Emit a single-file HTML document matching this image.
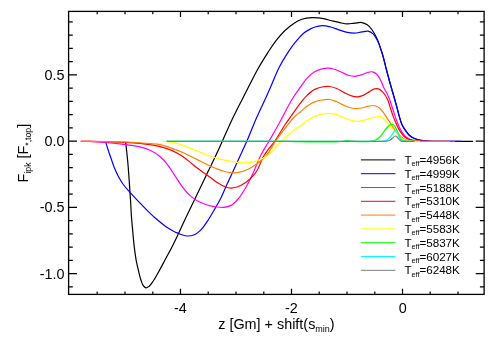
<!DOCTYPE html>
<html><head><meta charset="utf-8"><style>
html,body{margin:0;padding:0;background:#fff;}
svg{display:block;will-change:transform;font-family:"Liberation Sans",sans-serif;}
</style></head><body>
<svg width="491" height="343" viewBox="0 0 491 343">
<rect width="491" height="343" fill="#fff"/>
<g fill="none" stroke-width="1.2" stroke-linejoin="round" stroke-linecap="butt">
<path d="M125.7,142.0 C126.3,148.0 127.0,154.0 127.6,160.0 C128.1,164.9 128.4,169.8 128.8,174.7 C129.2,180.6 129.6,186.5 130.0,192.4 C130.2,195.5 130.4,198.5 130.6,201.6 C130.9,205.9 131.0,210.2 131.3,214.5 C131.7,220.3 132.3,226.2 132.8,232.0 C133.3,237.3 133.7,242.7 134.4,248.0 C134.9,251.9 135.4,255.9 136.1,259.8 C136.8,263.6 137.7,267.4 138.6,271.2 C139.3,274.2 139.9,277.3 141.0,280.2 C141.7,282.1 142.2,284.4 143.5,285.9 C144.2,286.7 145.0,287.8 145.9,287.9 C146.9,288.1 148.2,286.9 149.2,286.2 C150.9,284.9 152.0,282.8 153.3,281.0 C155.5,277.9 157.2,274.5 159.0,271.2 C161.2,267.2 163.3,263.1 165.5,259.0 C167.1,256.0 168.8,253.0 170.4,250.0 C175.9,239.6 180.6,228.7 185.7,218.0 C190.2,208.7 194.7,199.3 199.2,190.0 C201.6,184.9 204.1,179.9 206.5,174.8 C209.6,168.4 212.8,162.0 215.8,155.5 C218.0,150.8 220.1,146.0 222.3,141.3 C225.3,134.6 228.2,127.8 231.3,121.2 C234.7,114.1 238.3,107.1 241.9,100.0 C244.6,94.7 247.3,89.3 250.0,84.0 C252.9,78.5 255.6,72.9 258.7,67.5 C261.5,62.5 264.6,57.6 267.7,52.8 C270.8,48.1 273.8,43.3 277.4,38.9 C280.0,35.8 282.6,32.7 285.6,30.0 C288.2,27.6 290.9,25.3 293.8,23.4 C296.3,21.8 299.1,20.2 301.9,19.3 C305.0,18.3 308.4,17.8 311.7,17.7 C313.8,17.6 315.9,17.7 318.0,17.9 C319.8,18.1 321.7,18.4 323.5,18.7 C326.8,19.3 330.0,20.5 333.3,21.2 C335.5,21.7 337.8,22.2 340.0,22.6 C342.4,23.1 344.9,23.8 347.3,23.9 C349.8,24.0 352.2,23.3 354.7,23.1 C357.1,22.9 359.7,22.1 362.0,22.6 C363.7,22.9 365.4,23.7 366.9,24.6 C368.8,25.8 370.4,27.7 371.8,29.5 C373.8,32.1 375.3,35.1 376.7,38.1 C378.8,42.4 380.1,47.0 381.6,51.5 C383.6,57.6 384.9,63.8 386.5,70.0 C387.7,74.3 388.8,78.7 390.0,83.0 C391.6,88.7 393.3,94.3 394.9,100.0 C395.6,102.7 396.4,105.3 397.1,108.0 C397.8,110.7 398.4,113.4 399.2,116.1 C400.0,118.8 400.6,121.6 401.8,124.2 C402.8,126.4 404.2,128.6 405.6,130.6 C406.7,132.2 407.9,133.9 409.3,135.2 C410.7,136.4 412.2,137.5 413.9,138.3 C415.3,139.0 416.9,139.4 418.5,139.8 C420.0,140.2 421.6,140.5 423.2,140.7 C424.8,140.9 426.4,141.1 428.0,141.2 C429.3,141.3 430.7,141.3 432.0,141.3 C433.3,141.3 434.7,141.3 436.0,141.3 C448.3,141.3 460.7,141.3 473.0,141.3" stroke="#000000"/>
<path d="M105.6,141.6 C106.5,144.7 107.4,147.8 108.4,150.8 C109.4,153.9 110.5,156.9 111.6,160.0 C112.6,162.9 113.5,165.8 114.7,168.6 C115.8,171.3 117.0,173.9 118.4,176.5 C119.9,179.3 121.5,182.0 123.3,184.5 C125.3,187.3 127.7,189.8 130.0,192.4 C132.8,195.5 135.7,198.6 138.6,201.6 C143.6,206.8 148.5,212.1 153.9,216.9 C157.8,220.3 161.8,223.8 166.1,226.7 C169.6,229.0 173.2,231.3 177.1,232.9 C180.2,234.2 183.6,235.9 186.9,236.0 C189.3,236.1 192.1,235.7 194.3,234.8 C196.6,233.9 198.6,232.1 200.4,230.4 C203.4,227.7 205.5,224.0 207.8,220.6 C210.5,216.7 212.7,212.5 215.1,208.4 C216.8,205.5 218.5,202.7 220.0,199.8 C222.3,195.4 224.1,190.8 226.1,186.3 C230.8,176.0 235.6,165.8 240.3,155.5 C242.5,150.8 244.7,146.1 246.8,141.3 C250.0,134.1 252.7,126.8 255.8,119.6 C258.7,113.0 261.8,106.6 264.8,100.0 C267.1,95.0 269.3,89.9 271.5,84.9 C274.1,79.1 276.2,73.1 279.1,67.5 C281.5,62.7 284.3,58.1 287.2,53.6 C289.8,49.7 292.4,45.8 295.4,42.2 C298.0,39.1 300.4,35.7 303.6,33.2 C305.6,31.6 307.8,30.3 310.1,29.1 C311.7,28.3 313.3,27.5 315.0,27.0 C317.3,26.2 319.9,25.7 322.3,25.6 C325.1,25.5 328.0,26.3 330.8,27.0 C334.1,27.8 337.3,29.4 340.6,30.4 C342.8,31.1 345.0,31.9 347.3,32.4 C349.7,32.9 352.2,33.3 354.7,33.2 C357.1,33.1 359.6,32.2 362.0,31.9 C364.1,31.6 366.3,30.8 368.2,31.2 C369.9,31.6 371.7,32.7 373.1,33.9 C374.7,35.3 375.6,37.4 376.7,39.3 C378.9,43.1 380.2,47.4 381.6,51.5 C383.7,57.5 384.9,63.8 386.5,70.0 C387.7,74.3 388.8,78.7 390.0,83.0 C391.6,88.7 393.3,94.3 394.9,100.0 C395.6,102.7 396.4,105.3 397.1,108.0 C397.8,110.7 398.4,113.4 399.2,116.1 C400.0,118.8 400.6,121.6 401.8,124.2 C402.8,126.4 404.2,128.6 405.6,130.6 C406.7,132.2 407.9,133.9 409.3,135.2 C410.7,136.4 412.2,137.5 413.9,138.3 C415.3,139.0 416.9,139.4 418.5,139.8 C420.0,140.2 421.6,140.5 423.2,140.7 C424.8,140.9 426.4,141.1 428.0,141.2 C429.3,141.3 430.7,141.3 432.0,141.3 C433.3,141.3 434.7,141.3 436.0,141.3 C444.3,141.3 452.7,141.3 461.0,141.3" stroke="#0000ff"/>
<path d="M80.8,141.3 C83.9,141.3 86.9,141.3 90.0,141.4 C95.2,141.6 100.5,142.0 105.7,142.4 C112.5,143.0 119.2,143.8 125.9,144.7 C130.3,145.3 134.7,145.7 139.0,146.7 C142.7,147.6 146.5,148.6 150.0,150.2 C153.5,151.8 157.0,154.0 160.0,156.5 C162.7,158.8 165.1,161.5 167.3,164.3 C170.1,167.7 172.2,171.6 174.7,175.3 C177.1,179.0 179.3,182.8 182.0,186.3 C184.3,189.3 186.6,192.3 189.4,194.9 C191.6,197.0 194.1,198.9 196.7,200.5 C199.7,202.3 203.1,203.6 206.5,204.7 C209.7,205.7 213.0,206.5 216.3,206.9 C218.7,207.2 221.3,207.6 223.7,207.4 C226.2,207.2 228.8,206.5 231.0,205.4 C233.9,203.9 236.2,201.1 238.4,198.6 C241.3,195.3 243.5,191.4 245.7,187.6 C248.5,182.9 250.8,177.9 253.1,172.9 C255.8,167.2 257.8,161.1 260.7,155.5 C263.2,150.6 266.2,146.0 268.9,141.3 C272.7,134.6 276.6,127.9 280.3,121.2 C284.2,114.2 287.5,106.8 291.7,100.0 C294.3,95.8 297.1,91.7 300.0,87.7 C302.4,84.4 304.5,80.8 307.3,77.9 C309.5,75.6 312.0,73.4 314.7,71.8 C316.9,70.5 319.5,69.5 322.0,68.9 C324.0,68.4 326.1,68.0 328.2,68.1 C330.2,68.2 332.3,68.7 334.3,69.3 C336.8,70.0 339.2,71.3 341.6,72.3 C344.1,73.3 346.4,74.8 349.0,75.5 C351.0,76.0 353.1,76.4 355.1,76.3 C357.2,76.2 359.2,75.5 361.2,74.9 C363.3,74.3 365.3,73.0 367.4,72.5 C369.0,72.1 370.7,71.6 372.2,71.8 C373.5,72.0 374.9,72.7 376.0,73.5 C378.0,74.9 379.1,77.5 380.4,79.7 C381.9,82.4 382.6,85.5 384.1,88.3 C384.9,89.8 385.8,91.1 386.6,92.6 C387.8,95.0 388.8,97.5 389.8,100.0 C390.8,102.6 391.5,105.3 392.4,108.0 C393.3,110.7 394.2,113.4 395.1,116.1 C396.0,118.6 396.8,121.1 397.8,123.5 C398.8,126.0 399.8,128.6 401.2,130.9 C402.3,132.8 403.6,134.7 405.2,136.2 C406.6,137.4 408.2,138.5 409.9,139.2 C411.6,140.0 413.5,140.4 415.3,140.7 C417.2,141.1 419.1,141.2 421.0,141.3 C424.0,141.5 427.0,141.3 430.0,141.3 C438.3,141.3 446.7,141.3 455.0,141.3" stroke="#ff00ff"/>
<path d="M80.8,141.3 C83.9,141.3 86.9,141.3 90.0,141.3 C96.3,141.3 102.7,141.5 109.0,141.7 C114.6,141.9 120.3,142.0 125.9,142.4 C134.0,142.9 142.0,143.4 150.0,144.7 C152.7,145.1 155.4,145.6 158.0,146.2 C162.0,147.1 166.0,148.1 169.8,149.6 C173.2,150.9 176.5,152.6 179.6,154.5 C183.0,156.6 186.2,159.1 189.4,161.6 C192.7,164.2 195.8,167.0 199.2,169.6 C202.4,172.0 205.7,174.3 209.0,176.6 C212.3,178.9 215.3,181.6 218.8,183.6 C220.8,184.8 222.9,186.0 225.1,186.8 C226.8,187.4 228.7,188.0 230.5,188.1 C232.7,188.2 234.9,187.6 237.0,187.0 C240.1,186.1 243.0,184.3 245.7,182.5 C249.4,179.9 252.8,176.5 255.5,172.9 C259.4,167.9 260.6,161.0 264.0,155.5 C267.1,150.5 271.2,146.2 274.6,141.3 C278.4,135.9 281.5,130.0 285.2,124.5 C288.4,119.8 291.7,115.2 295.0,110.6 C296.7,108.3 298.2,105.9 300.0,103.6 C302.3,100.7 304.6,97.6 307.3,95.1 C309.6,93.0 312.0,90.8 314.7,89.4 C317.0,88.3 319.5,87.5 322.0,87.0 C324.4,86.5 327.0,86.3 329.4,86.5 C331.9,86.7 334.4,87.6 336.7,88.5 C339.3,89.5 341.6,91.4 344.1,92.6 C346.5,93.8 348.9,95.1 351.4,95.8 C353.4,96.4 355.6,96.9 357.6,96.8 C359.7,96.7 361.8,95.9 363.7,95.1 C365.9,94.2 367.7,92.5 369.8,91.4 C371.4,90.5 372.9,89.2 374.7,88.9 C375.9,88.7 377.3,88.6 378.4,88.9 C380.3,89.4 381.9,91.2 383.3,92.6 C385.3,94.6 386.6,97.4 387.8,100.0 C389.0,102.5 389.5,105.3 390.4,108.0 C391.3,110.7 392.1,113.4 393.1,116.1 C394.1,118.8 395.3,121.5 396.5,124.2 C397.5,126.5 398.5,128.8 399.8,130.9 C401.0,132.8 402.3,134.7 403.9,136.2 C405.3,137.4 406.9,138.4 408.6,139.2 C410.3,139.9 412.1,140.4 413.9,140.7 C416.2,141.2 418.6,141.2 421.0,141.3 C422.7,141.4 424.3,141.3 426.0,141.3" stroke="#ff0000"/>
<path d="M80.8,141.3 C83.9,141.3 86.9,141.3 90.0,141.3 C96.3,141.3 102.7,141.5 109.0,141.6 C114.6,141.7 120.3,141.8 125.9,142.0 C133.9,142.3 142.0,143.0 150.0,143.7 C153.3,144.0 156.7,144.1 160.0,144.7 C164.2,145.5 168.2,147.0 172.2,148.4 C176.4,149.9 180.5,151.5 184.5,153.3 C188.6,155.2 192.6,157.4 196.7,159.4 C200.8,161.4 204.8,163.6 209.0,165.5 C213.0,167.3 217.0,169.1 221.2,170.4 C224.4,171.4 227.7,172.7 231.0,172.9 C233.4,173.1 236.0,172.8 238.4,172.4 C241.8,171.8 245.1,170.6 248.2,169.2 C251.7,167.6 254.9,165.4 258.0,163.1 C261.0,160.8 263.9,158.3 266.4,155.5 C270.1,151.3 272.2,145.9 275.4,141.3 C279.0,136.1 282.8,131.0 286.8,126.1 C289.5,122.8 291.9,119.2 295.0,116.3 C296.6,114.8 298.3,113.6 300.0,112.2 C302.4,110.2 304.7,107.9 307.3,106.1 C309.6,104.5 312.1,102.9 314.7,101.9 C317.0,101.0 319.5,100.4 322.0,100.0 C324.4,99.6 327.0,99.2 329.4,99.5 C331.9,99.8 334.3,100.8 336.7,101.7 C339.3,102.7 341.6,104.3 344.1,105.4 C346.5,106.4 348.9,107.5 351.4,108.0 C353.4,108.4 355.5,108.6 357.6,108.5 C359.6,108.4 361.7,107.9 363.7,107.5 C365.3,107.1 366.9,106.5 368.5,106.2 C369.9,105.9 371.3,105.5 372.7,105.5 C374.0,105.5 375.3,105.8 376.5,106.3 C377.6,106.8 378.6,107.5 379.5,108.3 C380.8,109.4 382.0,110.8 383.1,112.1 C384.6,114.0 385.8,116.1 387.1,118.1 C388.4,120.1 389.8,122.2 391.1,124.2 C392.4,126.2 393.6,128.3 395.1,130.2 C396.4,131.8 397.7,133.4 399.2,134.9 C400.7,136.3 402.1,137.9 403.9,138.9 C405.3,139.7 407.0,140.1 408.6,140.5 C410.4,140.9 412.2,141.1 414.0,141.2 C416.0,141.4 418.0,141.3 420.0,141.3 C422.7,141.3 425.3,141.3 428.0,141.3 C435.3,141.3 442.7,141.3 450.0,141.3" stroke="#ff8000"/>
<path d="M163.0,141.4 C166.1,141.7 169.2,141.7 172.2,142.2 C176.4,142.9 180.5,144.5 184.5,145.9 C188.6,147.3 192.6,149.2 196.7,150.8 C200.8,152.4 204.8,154.2 209.0,155.7 C213.0,157.1 217.1,158.4 221.2,159.4 C225.2,160.4 229.4,161.2 233.5,161.8 C236.7,162.3 240.0,162.8 243.3,162.8 C246.6,162.8 249.9,162.5 253.1,161.8 C256.5,161.0 259.8,159.8 262.9,158.2 C264.4,157.4 265.8,156.5 267.2,155.5 C272.6,151.7 276.3,145.8 281.1,141.3 C285.6,137.1 290.0,132.9 295.0,129.4 C296.6,128.3 298.4,127.3 300.0,126.2 C302.5,124.5 304.8,122.5 307.3,120.8 C309.7,119.2 312.1,117.5 314.7,116.4 C317.0,115.4 319.5,114.7 322.0,114.2 C324.4,113.7 326.9,113.3 329.4,113.4 C331.8,113.5 334.3,114.0 336.7,114.7 C339.3,115.4 341.6,116.9 344.1,117.8 C346.5,118.7 348.9,119.7 351.4,120.3 C353.4,120.8 355.5,121.3 357.6,121.3 C359.6,121.3 361.7,120.8 363.7,120.3 C365.8,119.8 367.7,118.9 369.8,118.3 C371.5,117.8 373.3,117.4 375.0,117.0 C376.1,116.8 377.3,116.3 378.4,116.4 C379.5,116.5 380.7,116.9 381.7,117.4 C383.2,118.2 384.5,119.6 385.7,120.8 C387.2,122.2 388.4,123.9 389.8,125.5 C391.1,127.1 392.5,128.6 393.8,130.2 C395.1,131.8 396.4,133.4 397.8,134.9 C399.1,136.2 400.3,137.5 401.8,138.5 C403.1,139.3 404.5,140.0 405.9,140.4 C407.5,140.9 409.3,141.1 411.0,141.2 C412.7,141.3 414.3,141.3 416.0,141.3 C417.3,141.3 418.7,141.3 420.0,141.3" stroke="#ffff00"/>
<path d="M166.0,141.3 C174.0,141.3 182.0,141.3 190.0,141.3 C200.0,141.3 210.0,141.3 220.0,141.3 C230.0,141.3 240.0,141.3 250.0,141.3 C258.3,141.3 266.7,141.3 275.0,141.3 C280.0,141.3 285.0,141.3 290.0,141.4 C293.3,141.5 296.7,141.6 300.0,141.7 C306.7,141.9 313.3,141.9 320.0,141.9 C325.0,141.9 330.0,142.1 335.0,141.8 C337.3,141.7 339.7,141.5 342.0,141.3 C343.7,141.1 345.3,140.7 347.0,140.7 C348.3,140.7 349.7,141.1 351.0,141.2 C353.3,141.4 355.7,141.6 358.0,141.7 C360.7,141.8 363.3,141.7 366.0,141.6 C367.7,141.5 369.4,141.5 371.0,141.2 C372.3,141.0 373.8,140.8 375.0,140.3 C376.5,139.7 377.8,138.6 379.0,137.6 C380.6,136.3 381.8,134.5 383.1,132.9 C384.5,131.2 385.5,129.1 387.1,127.5 C388.1,126.5 389.1,125.3 390.4,124.8 C391.0,124.6 391.8,124.3 392.4,124.4 C393.2,124.5 393.9,125.2 394.5,125.8 C395.5,126.7 395.9,128.2 396.5,129.5 C397.2,131.0 397.8,132.7 398.5,134.2 C399.1,135.6 399.5,137.2 400.5,138.3 C401.2,139.2 402.2,140.0 403.2,140.5 C404.3,141.1 405.7,141.1 407.0,141.3 C408.6,141.5 410.3,141.3 412.0,141.3 C413.0,141.3 414.0,141.3 415.0,141.3" stroke="#00ff00"/>
<path d="M166.0,141.3 C177.3,141.3 188.7,141.3 200.0,141.3 C216.7,141.3 233.3,141.3 250.0,141.3 C266.7,141.3 283.3,141.3 300.0,141.3 C316.7,141.3 333.3,141.3 350.0,141.3 C356.7,141.3 363.3,141.3 370.0,141.3 C373.3,141.3 376.7,141.6 380.0,141.3 C381.5,141.2 383.0,141.2 384.4,140.8 C385.8,140.4 387.2,139.8 388.4,138.9 C389.8,137.9 390.7,136.3 391.8,134.9 C392.8,133.7 393.2,131.8 394.5,131.1 C394.9,130.9 395.4,130.6 395.8,130.6 C396.4,130.7 396.7,131.6 397.1,132.2 C398.1,133.6 398.4,135.4 399.2,136.9 C399.8,138.0 400.3,139.3 401.2,140.0 C401.8,140.4 402.5,140.8 403.2,141.0 C404.1,141.3 405.1,141.2 406.0,141.3 C407.3,141.4 408.7,141.3 410.0,141.3 C411.0,141.3 412.0,141.3 413.0,141.3" stroke="#00ffff"/>
<path d="M167.0,141.3 C178.0,141.3 189.0,141.3 200.0,141.3 C216.7,141.3 233.3,141.3 250.0,141.3 C266.7,141.3 283.3,141.3 300.0,141.3 C316.7,141.3 333.3,141.3 350.0,141.3 C358.3,141.3 366.7,141.3 375.0,141.3 C377.3,141.3 379.7,141.3 382.0,141.3 C383.2,141.3 384.5,141.3 385.7,141.2 C387.1,141.0 388.6,140.9 389.8,140.3 C390.8,139.8 391.5,139.0 392.4,138.3 C393.3,137.6 394.1,136.0 395.1,136.0 C395.7,136.0 396.5,136.5 397.1,136.9 C398.0,137.5 398.4,138.8 399.2,139.6 C399.8,140.2 400.5,140.8 401.2,141.1 C402.0,141.4 403.1,141.3 404.0,141.3 C406.0,141.4 408.0,141.3 410.0,141.3 C411.3,141.3 412.7,141.3 414.0,141.3" stroke="#7f7f7f"/>
</g>
<rect x="68.6" y="11.4" width="415.5" height="283.0" fill="none" stroke="#000" stroke-width="1.3"/>
<path d="M97.2,294.4v-2.8M97.2,11.4v2.8M125.0,294.4v-2.8M125.0,11.4v2.8M152.8,294.4v-2.8M152.8,11.4v2.8M180.5,294.4v-5.6M180.5,11.4v5.6M208.2,294.4v-2.8M208.2,11.4v2.8M236.0,294.4v-2.8M236.0,11.4v2.8M263.8,294.4v-2.8M263.8,11.4v2.8M291.5,294.4v-5.6M291.5,11.4v5.6M319.2,294.4v-2.8M319.2,11.4v2.8M347.0,294.4v-2.8M347.0,11.4v2.8M374.8,294.4v-2.8M374.8,11.4v2.8M402.5,294.4v-5.6M402.5,11.4v5.6M430.2,294.4v-2.8M430.2,11.4v2.8M458.0,294.4v-2.8M458.0,11.4v2.8M68.6,286.9h4.2M484.1,286.9h-4.2M68.6,273.7h8.4M484.1,273.7h-8.4M68.6,260.4h4.2M484.1,260.4h-4.2M68.6,247.2h4.2M484.1,247.2h-4.2M68.6,233.9h4.2M484.1,233.9h-4.2M68.6,220.7h4.2M484.1,220.7h-4.2M68.6,207.4h8.4M484.1,207.4h-8.4M68.6,194.2h4.2M484.1,194.2h-4.2M68.6,180.9h4.2M484.1,180.9h-4.2M68.6,167.7h4.2M484.1,167.7h-4.2M68.6,154.4h4.2M484.1,154.4h-4.2M68.6,141.2h8.4M484.1,141.2h-8.4M68.6,127.9h4.2M484.1,127.9h-4.2M68.6,114.7h4.2M484.1,114.7h-4.2M68.6,101.4h4.2M484.1,101.4h-4.2M68.6,88.2h4.2M484.1,88.2h-4.2M68.6,74.9h8.4M484.1,74.9h-8.4M68.6,61.7h4.2M484.1,61.7h-4.2M68.6,48.4h4.2M484.1,48.4h-4.2M68.6,35.2h4.2M484.1,35.2h-4.2M68.6,21.9h4.2M484.1,21.9h-4.2" stroke="#000" stroke-width="1.2" fill="none"/>
<g fill="#000" font-size="14.4" text-anchor="end">
<text x="64.5" y="79.9">0.5</text>
<text x="64.5" y="146.1">0.0</text>
<text x="64.5" y="212.4">-0.5</text>
<text x="64.5" y="278.6">-1.0</text>
</g>
<g fill="#000" font-size="14.4" text-anchor="middle">
<text x="180.3" y="313.1">-4</text>
<text x="291.4" y="313.1">-2</text>
<text x="402.7" y="313.1">0</text>
<text x="218.2" y="329.3" text-anchor="start">z [Gm] + shift(s<tspan dy="2.6" font-size="9">min</tspan><tspan dy="-2.6">)</tspan></text>
</g>
<text transform="translate(28.2,182.4) rotate(-90)" font-size="14.4" fill="#000">F<tspan dy="3.2" font-size="8.7">ipk</tspan><tspan dy="-3.2"> [F</tspan><tspan dy="3.2" font-size="8.7">*,top</tspan><tspan dy="-3.2">]</tspan></text>
<g fill="#000">
<line x1="360.9" x2="395.4" y1="159.9" y2="159.9" stroke="#000000" stroke-width="1.0"/>
<text x="404.4" y="164.0" font-size="11.65">T<tspan dy="2.3" font-size="7.2">eff</tspan><tspan dy="-2.3">=4956K</tspan></text>
<line x1="360.9" x2="395.4" y1="173.7" y2="173.7" stroke="#0000ff" stroke-width="1.0"/>
<text x="404.4" y="177.8" font-size="11.65">T<tspan dy="2.3" font-size="7.2">eff</tspan><tspan dy="-2.3">=4999K</tspan></text>
<line x1="360.9" x2="395.4" y1="187.5" y2="187.5" stroke="#ff00ff" stroke-width="1.0"/>
<text x="404.4" y="191.6" font-size="11.65">T<tspan dy="2.3" font-size="7.2">eff</tspan><tspan dy="-2.3">=5188K</tspan></text>
<line x1="360.9" x2="395.4" y1="201.3" y2="201.3" stroke="#ff0000" stroke-width="1.0"/>
<text x="404.4" y="205.4" font-size="11.65">T<tspan dy="2.3" font-size="7.2">eff</tspan><tspan dy="-2.3">=5310K</tspan></text>
<line x1="360.9" x2="395.4" y1="215.1" y2="215.1" stroke="#ff8000" stroke-width="1.0"/>
<text x="404.4" y="219.2" font-size="11.65">T<tspan dy="2.3" font-size="7.2">eff</tspan><tspan dy="-2.3">=5448K</tspan></text>
<line x1="360.9" x2="395.4" y1="228.9" y2="228.9" stroke="#ffff00" stroke-width="1.0"/>
<text x="404.4" y="233.0" font-size="11.65">T<tspan dy="2.3" font-size="7.2">eff</tspan><tspan dy="-2.3">=5583K</tspan></text>
<line x1="360.9" x2="395.4" y1="242.7" y2="242.7" stroke="#00ff00" stroke-width="1.0"/>
<text x="404.4" y="246.8" font-size="11.65">T<tspan dy="2.3" font-size="7.2">eff</tspan><tspan dy="-2.3">=5837K</tspan></text>
<line x1="360.9" x2="395.4" y1="256.5" y2="256.5" stroke="#00ffff" stroke-width="1.0"/>
<text x="404.4" y="260.6" font-size="11.65">T<tspan dy="2.3" font-size="7.2">eff</tspan><tspan dy="-2.3">=6027K</tspan></text>
<line x1="360.9" x2="395.4" y1="270.3" y2="270.3" stroke="#7f7f7f" stroke-width="1.0"/>
<text x="404.4" y="274.4" font-size="11.65">T<tspan dy="2.3" font-size="7.2">eff</tspan><tspan dy="-2.3">=6248K</tspan></text>
</g>
</svg>
</body></html>
